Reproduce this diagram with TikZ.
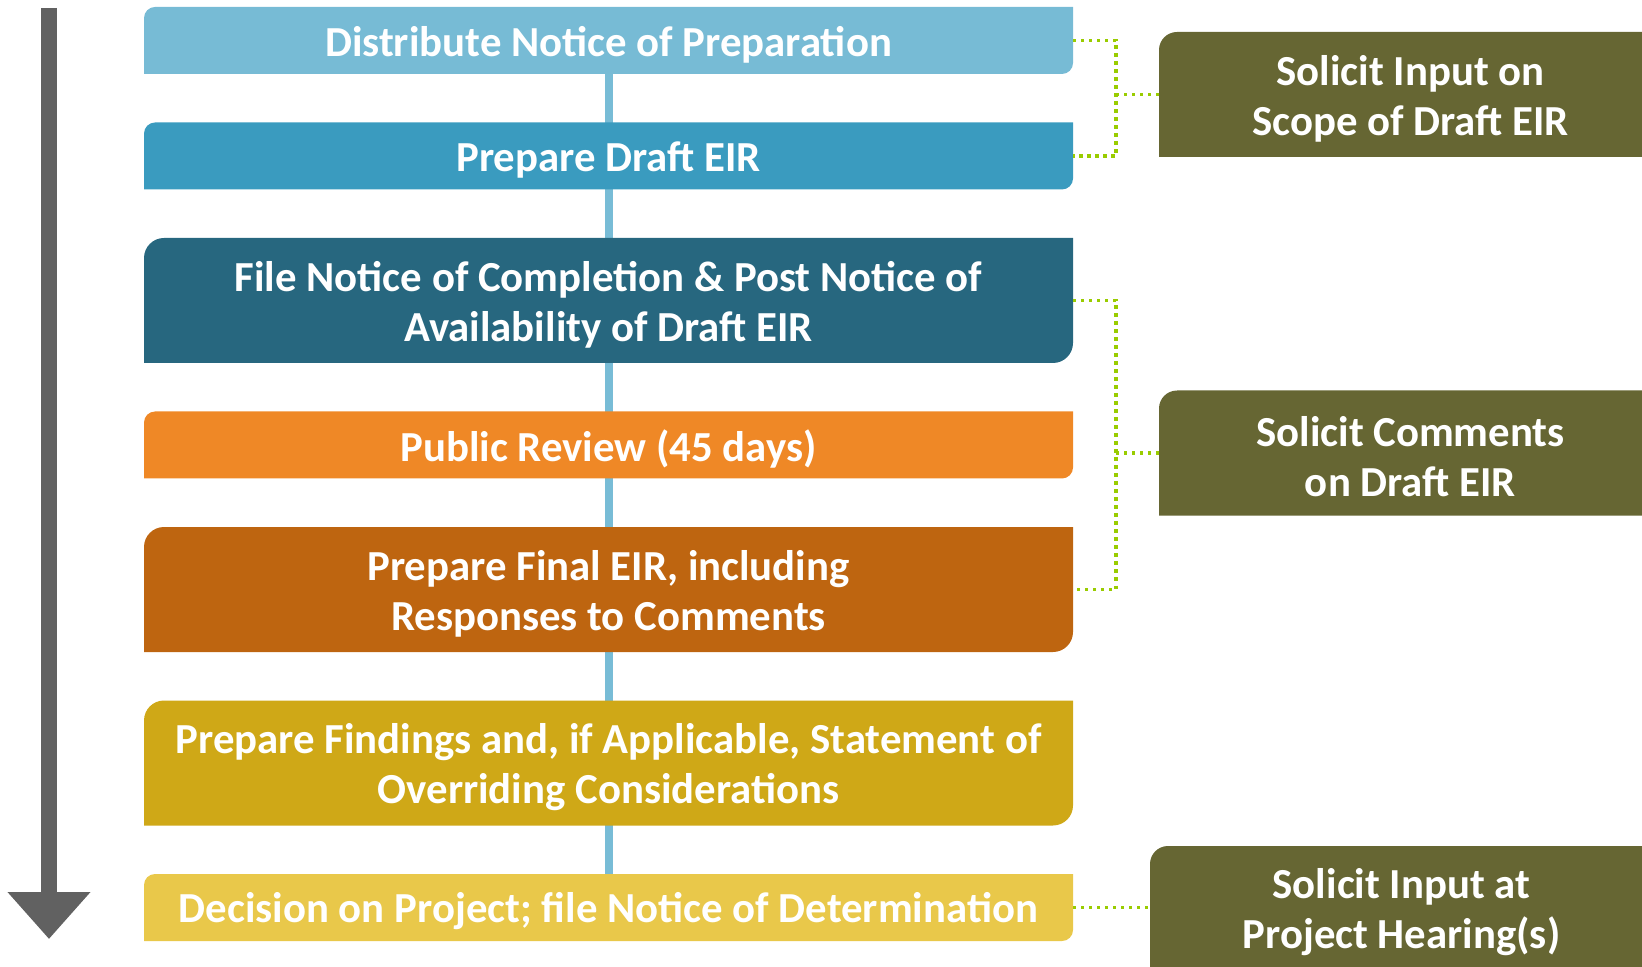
\documentclass[tikz,border=0pt]{standalone}
\usepackage{fontspec}
\setmainfont{Carlito}
\usetikzlibrary{positioning,backgrounds,arrows.meta}

\definecolor{noticeblue}{HTML}{77BBD5}
\definecolor{draftblue}{HTML}{3A9BBF}
\definecolor{completeteal}{HTML}{27677F}
\definecolor{revieworange}{HTML}{EF8826}
\definecolor{finalbrown}{HTML}{BE6510}
\definecolor{findgold}{HTML}{CFA817}
\definecolor{decideyellow}{HTML}{E9C84A}
\definecolor{solicitolive}{HTML}{666633}
\definecolor{linkgreen}{HTML}{99CC00}
\definecolor{spineblue}{HTML}{78BCD6}
\definecolor{timegray}{HTML}{616161}

\tikzset{
  stage/.style={text=white, font=\bfseries\fontsize{21.4}{25}\selectfont,
    align=center, minimum width=464.5pt, inner sep=0pt, outer sep=0pt},
  onerow/.style={stage, minimum height=33.5pt},
  tworow/.style={stage, minimum height=62.5pt},
  solicit/.style={stage, minimum width=251.5pt, minimum height=62.5pt},
  link/.style={linkgreen, line width=1.65pt, dash pattern=on 1.65pt off 2.35pt,
    transform canvas={yshift=2pt}},
}

% box with rounded top left and bottom right corners,
% lifted 2pt so the white text sits a little low as in the slide
\newcommand{\stagefill}[3]{%
  \fill[#2] ([yshift=2pt]#1.south west) -- ([yshift=2pt-#3]#1.north west)
    arc[start angle=180, end angle=90, radius=#3] -- ([yshift=2pt]#1.north east)
    -- ([yshift=2pt+#3]#1.south east)
    arc[start angle=0, end angle=-90, radius=#3] -- cycle;}

\begin{document}
\begin{tikzpicture}[x=0.5pt, y=0.5pt, node distance=24.25pt]

    \useasboundingbox (0,0) rectangle (1642,-967);

    % Process steps
    \node[onerow] (prep) at (608.5,-44.5) {Distribute Notice of Preparation};
    \node[onerow, below=of prep] (draft) {Prepare Draft EIR};
    \node[tworow, below=of draft] (complete) {File Notice of Completion \& Post Notice of\\Availability of Draft EIR};
    \node[onerow, below=of complete] (review) {Public Review (45 days)};
    \node[tworow, below=of review] (final) {Prepare Final EIR, including\\Responses to Comments};
    \node[tworow, below=of final] (findings) {Prepare Findings and, if Applicable, Statement of\\Overriding Considerations};
    \node[onerow, below=of findings] (decision) {Decision on Project; file Notice of Determination};

    % Public input boxes
    \node[solicit] (scope) at (1410.5,-98.5) {Solicit Input on\\Scope of Draft EIR};
    \node[solicit] (comments) at (1410.5,-457) {Solicit Comments\\on Draft EIR};
    \node[solicit] (hearing) at (1401.5,-912.5) {Solicit Input at\\Project Hearing(s)};

    % Box fills and spine behind the text
    \begin{scope}[on background layer]
        \draw[spineblue, line width=4pt] ([yshift=2pt]prep.center) -- ([yshift=2pt]decision.center);
        \stagefill{prep}{noticeblue}{5.5pt}
        \stagefill{draft}{draftblue}{5.5pt}
        \stagefill{complete}{completeteal}{10pt}
        \stagefill{review}{revieworange}{5.5pt}
        \stagefill{final}{finalbrown}{10pt}
        \stagefill{findings}{findgold}{10pt}
        \stagefill{decision}{decideyellow}{5.5pt}
        \stagefill{scope}{solicitolive}{9pt}
        \stagefill{comments}{solicitolive}{9pt}
        \stagefill{hearing}{solicitolive}{9pt}
    \end{scope}

    % Dotted links to the input boxes
    \path (prep.east) ++(21.5pt,0) coordinate (rail);
    \coordinate (scopejoin) at (rail |- scope.west);
    \coordinate (commentjoin) at (rail |- comments.west);
    \draw[link] (prep.east) -| (scopejoin) |- (draft.east);
    \draw[link] (scopejoin) -- (scope.west);
    \draw[link] (complete.east) -| (commentjoin) |- (final.east);
    \draw[link] (commentjoin) -- (comments.west);
    \draw[link] (decision.east) -- (decision.east -| hearing.west);

    % Time arrow
    \coordinate (timetop) at (49,-8);
    \coordinate (timeend) at (49,-939);
    \draw[timegray, line width=8pt, -{Triangle[width=40pt, length=23.5pt]}] (timetop) -- (timeend);

\end{tikzpicture}
\end{document}
